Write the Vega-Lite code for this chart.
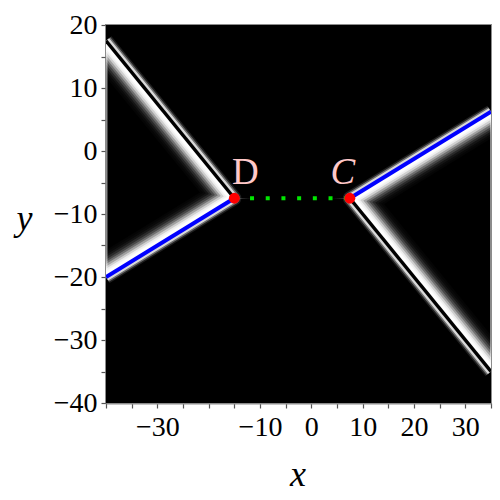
{
  "$schema": "https://vega.github.io/schema/vega-lite/v6.json",
  "width": 385,
  "height": 378,
  "autosize": {"type": "none"},
  "padding": {"left": 106, "top": 25, "right": 9, "bottom": 97},
  "background": "white",
  "config": {"view": {"fill": "black", "stroke": "#8c8c8c", "strokeWidth": 2}},
  "datasets": {
    "branches": [
      {"side": "left", "branch": "upper", "kind": "slope -1", "x": -40, "y": 17.5},
      {"side": "left", "branch": "upper", "kind": "slope -1", "x": -15, "y": -7.5},
      {"side": "left", "branch": "lower", "kind": "slope 1/2", "x": -15, "y": -7.5},
      {"side": "left", "branch": "lower", "kind": "slope 1/2", "x": -40, "y": -20},
      {"side": "right", "branch": "upper", "kind": "slope 1/2", "x": 35, "y": 6.25},
      {"side": "right", "branch": "upper", "kind": "slope 1/2", "x": 7.5, "y": -7.5},
      {"side": "right", "branch": "lower", "kind": "slope -1", "x": 7.5, "y": -7.5},
      {"side": "right", "branch": "lower", "kind": "slope -1", "x": 35, "y": -35}
    ],
    "points": [
      {"name": "D", "x": -15, "y": -7.5},
      {"name": "C", "x": 7.5, "y": -7.5}
    ]
  },
  "encoding": {
    "x": {
      "field": "x", "type": "quantitative",
      "scale": {"domain": [-40, 35], "nice": false, "zero": false},
      "axis": {
        "title": "x",
        "values": [-40, -35, -30, -25, -20, -15, -10, -5, 0, 5, 10, 15, 20, 25, 30, 35],
        "labelExpr": "indexof([-30, -10, 0, 10, 20, 30], datum.value) >= 0 ? datum.label : ''",
        "labelFont": "Liberation Serif", "labelFontSize": 28, "labelColor": "black",
        "labelBaseline": "alphabetic", "labelPadding": 27,
        "labelOverlap": false, "labelFlush": false,
        "tickColor": "#555555", "tickSize": 5, "tickWidth": 1.2,
        "domainColor": "#8c8c8c", "domainWidth": 2, "grid": false,
        "titleFont": "Liberation Serif", "titleFontStyle": "italic", "titleFontWeight": "normal",
        "titleFontSize": 36, "titleColor": "black",
        "titleX": 191.5, "titleY": 82, "titleBaseline": "alphabetic", "titleAlign": "center"
      }
    },
    "y": {
      "field": "y", "type": "quantitative",
      "scale": {"domain": [-40, 20], "nice": false, "zero": false},
      "axis": {
        "title": "y",
        "values": [-40, -35, -30, -25, -20, -15, -10, -5, 0, 5, 10, 15, 20],
        "labelExpr": "datum.value % 10 == 0 ? datum.label : ''",
        "labelFont": "Liberation Serif", "labelFontSize": 28, "labelColor": "black",
        "labelPadding": 4, "labelOverlap": false, "labelFlush": false,
        "tickColor": "#555555", "tickSize": 5, "tickWidth": 1.2,
        "domainColor": "#8c8c8c", "domainWidth": 2, "grid": false,
        "titleFont": "Liberation Serif", "titleFontStyle": "italic", "titleFontWeight": "normal",
        "titleFontSize": 36, "titleColor": "black", "titleAngle": 0,
        "titleX": -82, "titleY": 204, "titleBaseline": "alphabetic", "titleAlign": "center"
      }
    }
  },
  "layer": [
    {"data": {"name": "branches"}, "mark": {"type": "line", "stroke": "white", "strokeWidth": 46, "opacity": 0.018, "strokeCap": "butt", "strokeJoin": "round", "clip": true}, "encoding": {"detail": {"field": "side"}, "order": {"value": null}}},
    {"data": {"name": "branches"}, "mark": {"type": "line", "stroke": "white", "strokeWidth": 42, "opacity": 0.024, "strokeCap": "butt", "strokeJoin": "round", "clip": true}, "encoding": {"detail": {"field": "side"}, "order": {"value": null}}},
    {"data": {"name": "branches"}, "mark": {"type": "line", "stroke": "white", "strokeWidth": 38, "opacity": 0.049, "strokeCap": "butt", "strokeJoin": "round", "clip": true}, "encoding": {"detail": {"field": "side"}, "order": {"value": null}}},
    {"data": {"name": "branches"}, "mark": {"type": "line", "stroke": "white", "strokeWidth": 34, "opacity": 0.089, "strokeCap": "butt", "strokeJoin": "round", "clip": true}, "encoding": {"detail": {"field": "side"}, "order": {"value": null}}},
    {"data": {"name": "branches"}, "mark": {"type": "line", "stroke": "white", "strokeWidth": 30, "opacity": 0.145, "strokeCap": "butt", "strokeJoin": "round", "clip": true}, "encoding": {"detail": {"field": "side"}, "order": {"value": null}}},
    {"data": {"name": "branches"}, "mark": {"type": "line", "stroke": "white", "strokeWidth": 26, "opacity": 0.225, "strokeCap": "butt", "strokeJoin": "round", "clip": true}, "encoding": {"detail": {"field": "side"}, "order": {"value": null}}},
    {"data": {"name": "branches"}, "mark": {"type": "line", "stroke": "white", "strokeWidth": 22, "opacity": 0.345, "strokeCap": "butt", "strokeJoin": "round", "clip": true}, "encoding": {"detail": {"field": "side"}, "order": {"value": null}}},
    {"data": {"name": "branches"}, "mark": {"type": "line", "stroke": "white", "strokeWidth": 18, "opacity": 0.5, "strokeCap": "butt", "strokeJoin": "round", "clip": true}, "encoding": {"detail": {"field": "side"}, "order": {"value": null}}},
    {"data": {"name": "branches"}, "mark": {"type": "line", "stroke": "white", "strokeWidth": 14, "opacity": 0.61, "strokeCap": "butt", "strokeJoin": "round", "clip": true}, "encoding": {"detail": {"field": "side"}, "order": {"value": null}}},
    {"data": {"name": "branches"}, "mark": {"type": "line", "stroke": "white", "strokeWidth": 10, "opacity": 0.71, "strokeCap": "butt", "strokeJoin": "round", "clip": true}, "encoding": {"detail": {"field": "side"}, "order": {"value": null}}},
    {"data": {"name": "branches"}, "transform": [{"filter": "datum.branch == 'upper'"}], "mark": {"type": "area", "color": "black", "opacity": 1, "clip": true}, "encoding": {"y2": {"datum": 20}}},
    {"data": {"name": "branches"}, "transform": [{"filter": "datum.branch == 'lower'"}], "mark": {"type": "area", "color": "black", "opacity": 1, "clip": true}, "encoding": {"y2": {"datum": -40}}},
    {"data": {"name": "branches"}, "mark": {"type": "line", "stroke": "white", "strokeWidth": 14, "opacity": 0.12, "strokeCap": "butt", "strokeJoin": "round", "clip": true}, "encoding": {"detail": {"field": "side"}, "order": {"value": null}}},
    {"data": {"name": "branches"}, "mark": {"type": "line", "stroke": "white", "strokeWidth": 11, "opacity": 0.35, "strokeCap": "butt", "strokeJoin": "round", "clip": true}, "encoding": {"detail": {"field": "side"}, "order": {"value": null}}},
    {"data": {"name": "branches"}, "mark": {"type": "line", "stroke": "white", "strokeWidth": 8, "opacity": 0.75, "strokeCap": "butt", "strokeJoin": "round", "clip": true}, "encoding": {"detail": {"field": "side"}, "order": {"value": null}}},
    {"data": {"name": "branches"}, "mark": {"type": "line", "strokeCap": "butt", "clip": true}, "encoding": {
      "color": {"field": "kind", "type": "nominal", "scale": {"domain": ["slope -1", "slope 1/2"], "range": ["black", "#0000ff"]}, "legend": null},
      "strokeWidth": {"field": "kind", "type": "nominal", "scale": {"domain": ["slope -1", "slope 1/2"], "range": [3.5, 4]}, "legend": null},
      "detail": {"field": "side"}, "order": {"value": null}}},
    {"data": {"name": "points"}, "mark": {"type": "line", "stroke": "#00e600", "strokeWidth": 4, "strokeDash": [4, 11.7], "strokeCap": "butt"}, "encoding": {}},
    {"data": {"name": "points"}, "mark": {"type": "point", "shape": "circle", "filled": true, "size": 120, "color": "#ff0000", "opacity": 1}, "encoding": {}},
    {"data": {"name": "points"}, "transform": [{"filter": "datum.name == 'D'"}], "mark": {"type": "text", "font": "Liberation Serif", "fontSize": 37, "color": "#ffc8c8", "dx": 11, "dy": -14, "baseline": "alphabetic", "align": "center"}, "encoding": {"text": {"field": "name"}}},
    {"data": {"name": "points"}, "transform": [{"filter": "datum.name == 'C'"}], "mark": {"type": "text", "font": "Liberation Serif", "fontStyle": "italic", "fontSize": 37, "color": "#ffc8c8", "dx": -7, "dy": -14, "baseline": "alphabetic", "align": "center"}, "encoding": {"text": {"field": "name"}}}
  ]
}
